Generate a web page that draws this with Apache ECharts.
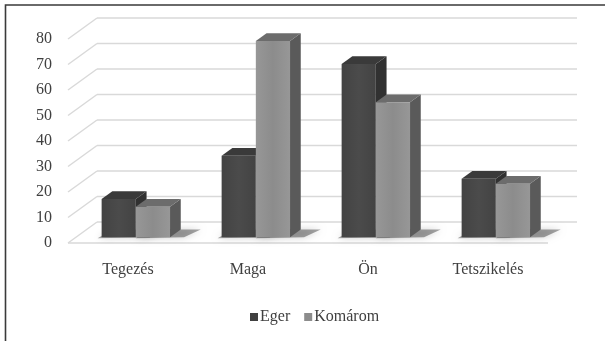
<!DOCTYPE html>
<html>
<head>
<meta charset="utf-8">
<script src="https://cdn.jsdelivr.net/npm/echarts@6/dist/echarts.min.js"></script>
<style>
  html, body { margin: 0; padding: 0; background: #ffffff; }
  #chart { width: 605px; height: 341px; }
</style>
</head>
<body>
<div id="chart"></div>
<script>
// Pronoun / address forms and their frequency in two towns
const categories = ['Tegezés', 'Maga', 'Ön', 'Tetszikelés'];
const egerValues = [15, 32, 68, 23];
const komaromValues = [12, 77, 53, 21];
const yTicks = [0, 10, 20, 30, 40, 50, 60, 70, 80];

const FONT = '"Liberation Serif", "Times New Roman", serif';
const TEXT_COLOR = '#404040';

// Oblique depth of the floor / back wall, and the slice of it the boxes occupy
const DEPTH = [29, -21];
const BOX_FRONT = 0.27;
const BOX_BACK = 0.64;
const BOX_WIDTH = 0.285; // fraction of a category band

const palette = {
  Eger: { front: ['#4b4b4b', '#434343'], top: '#3a3a3a', side: '#313131', legend: '#404040' },
  'Komárom': { front: ['#8c8c8c', '#979797'], top: '#6c6c6c', side: '#5a5a5a', legend: '#8c8c8c' }
};

function boxRenderer(name, side) {
  const pal = palette[name];
  return function (params, api) {
    const idx = api.value(0);
    const val = api.value(1);
    const top = api.coord([idx, val]);
    const base = api.coord([idx, 0]);
    const band = api.size([1, 0])[0];
    const w = band * BOX_WIDTH;
    const fx = DEPTH[0] * BOX_FRONT, fy = DEPTH[1] * BOX_FRONT;
    const bx = DEPTH[0] * BOX_BACK, by = DEPTH[1] * BOX_BACK;
    const x1 = (side < 0 ? top[0] - w : top[0]) + fx;
    const x2 = x1 + w;
    const yt = top[1] + fy;
    const yb = base[1] + fy;
    const dx = bx - fx, dy = by - fy;

    const shadowLeft = side < 0 ? x1 - 4 : x1;
    return {
      type: 'group',
      children: [
        {
          // soft floor shadow falling to the right of the box
          type: 'polygon',
          shape: { points: [[shadowLeft, yb + 1], [x2 + 14, yb], [x2 + dx + 20, yb + dy], [x1 + dx, yb + dy]] },
          style: { fill: 'rgba(0,0,0,0.35)', shadowBlur: 7, shadowColor: 'rgba(0,0,0,0.55)' }
        },
        {
          type: 'polygon',
          shape: { points: [[x2, yt], [x2 + dx, yt + dy], [x2 + dx, yb + dy], [x2, yb]] },
          style: { fill: pal.side }
        },
        {
          type: 'polygon',
          shape: { points: [[x1, yt], [x2, yt], [x2 + dx, yt + dy], [x1 + dx, yt + dy]] },
          style: { fill: pal.top }
        },
        {
          type: 'rect',
          shape: { x: x1, y: yt, width: w, height: yb - yt },
          style: {
            fill: new echarts.graphic.LinearGradient(0, 0, 1, 0, [
              { offset: 0, color: pal.front[1] },
              { offset: 0.5, color: pal.front[0] },
              { offset: 1, color: pal.front[1] }
            ])
          }
        }
      ]
    };
  };
}

// Floor, left wall diagonals and back-wall gridlines
function wallRenderer(params, api) {
  const cs = params.coordSys;
  const y = api.coord([0, api.value(1)])[1];
  const lineStyle = { stroke: '#d9d9d9', lineWidth: 1.5 };
  const children = [
    { type: 'line', shape: { x1: cs.x, y1: y, x2: cs.x + DEPTH[0], y2: y + DEPTH[1] }, style: lineStyle },
    { type: 'line', shape: { x1: cs.x + DEPTH[0], y1: y + DEPTH[1], x2: cs.x + cs.width + DEPTH[0], y2: y + DEPTH[1] }, style: lineStyle }
  ];
  if (api.value(1) === 0) {
    children.push({ type: 'line', shape: { x1: cs.x, y1: y, x2: cs.x + cs.width, y2: y }, style: lineStyle });
  }
  return { type: 'group', children: children };
}

const chart = echarts.init(document.getElementById('chart'), null, { renderer: 'canvas' });

chart.setOption({
  backgroundColor: '#ffffff',
  animation: false,
  graphic: [{
    type: 'rect',
    shape: { x: 5.5, y: 5, width: 640, height: 400 },
    style: { fill: 'none', stroke: '#3a3a3a', lineWidth: 1.6 },
    silent: true
  }],
  grid: { left: 68, top: 39, width: 480, height: 204 },
  legend: {
    data: ['Eger', 'Komárom'],
    left: 245,
    top: 304,
    icon: 'rect',
    itemWidth: 8,
    itemHeight: 8,
    itemGap: 14,
    textStyle: { fontFamily: FONT, fontSize: 16, color: TEXT_COLOR, padding: [0, 0, 0, -3] }
  },
  xAxis: {
    type: 'category',
    data: categories,
    axisLine: { show: false },
    axisTick: { show: false },
    splitLine: { show: false },
    axisLabel: { fontFamily: FONT, fontSize: 16, color: TEXT_COLOR, margin: 19 }
  },
  yAxis: {
    type: 'value',
    min: 0,
    max: 80,
    interval: 10,
    axisLine: { show: false },
    axisTick: { show: false },
    splitLine: { show: false },
    axisLabel: { fontFamily: FONT, fontSize: 16, color: TEXT_COLOR, margin: 16 }
  },
  series: [
    {
      name: 'walls',
      type: 'custom',
      silent: true,
      z: 1,
      renderItem: wallRenderer,
      data: yTicks.map(function (v) { return [0, v]; })
    },
    {
      name: 'Eger',
      type: 'custom',
      z: 2,
      itemStyle: { color: palette.Eger.legend },
      renderItem: boxRenderer('Eger', -1),
      data: egerValues.map(function (v, i) { return [i, v]; })
    },
    {
      name: 'Komárom',
      type: 'custom',
      z: 3,
      itemStyle: { color: palette['Komárom'].legend },
      renderItem: boxRenderer('Komárom', 1),
      data: komaromValues.map(function (v, i) { return [i, v]; })
    }
  ]
});
</script>
</body>
</html>
